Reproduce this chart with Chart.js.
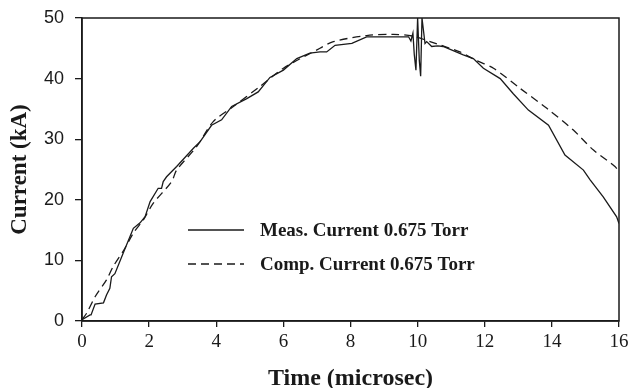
<!DOCTYPE html>
<html lang="en">
  <head>
    <meta charset="UTF-8" />
    <title>Current vs Time</title>
    <script src="https://cdn.jsdelivr.net/npm/chart.js@4"></script>
    <style>
      html, body { margin: 0; padding: 0; background: #fff; }
      .chart-box { width: 628px; height: 388px; }
    </style>
  </head>
  <body>
    <div class="chart-box">
      <canvas id="currentChart" width="628" height="388"></canvas>
    </div>
    <script>
      // measured current (solid)
      const measTime = [0, 0.24, 0.27, 0.39, 0.64, 0.73, 0.83, 0.88, 0.98, 1.25, 1.53, 1.73, 1.88, 2.03, 2.27, 2.37, 2.42, 2.52, 2.82, 3.32, 3.52, 3.86, 4.16, 4.46, 4.91, 5.25, 5.6, 6.0, 6.4, 6.79, 7.09, 7.29, 7.54, 8.04, 8.48, 9.73, 9.8, 9.86, 9.9, 9.95, 10.0, 10.05, 10.09, 10.13, 10.22, 10.27, 10.42, 10.6, 10.76, 11.36, 11.66, 11.96, 12.46, 12.85, 13.3, 13.9, 14.39, 14.94, 15.14, 15.53, 15.93, 16];
      const measCurrent = [0.2, 1.0, 1.0, 2.8, 3.0, 4.3, 5.4, 7.3, 7.8, 11.5, 15.3, 16.2, 17.2, 19.7, 21.9, 21.9, 23.0, 23.8, 25.5, 28.5, 29.6, 32.3, 33.2, 35.4, 36.7, 37.8, 40.2, 41.4, 43.3, 44.2, 44.4, 44.4, 45.5, 45.8, 46.9, 46.9, 46.2, 47.5, 44.0, 41.4, 50, 43.0, 40.4, 50, 45.8, 46.1, 45.3, 45.4, 45.3, 43.9, 43.3, 41.7, 40.0, 37.5, 34.8, 32.3, 27.4, 24.9, 23.3, 20.5, 17.2, 16.1];

      // computed current (dashed)
      const compTime = [0, 0.14, 0.39, 0.73, 0.93, 1.28, 1.53, 1.83, 2.12, 2.67, 2.82, 3.42, 3.91, 4.51, 5.3, 6.0, 7.09, 7.49, 8.48, 9.28, 9.87, 10.37, 11.26, 11.71, 12.26, 13.05, 13.85, 14.64, 15.24, 15.88, 16];
      const compCurrent = [0.2, 1.3, 4.0, 6.8, 9.0, 12.0, 14.5, 16.7, 19.4, 23.0, 24.9, 28.8, 32.9, 35.4, 38.7, 41.7, 45.0, 46.1, 47.1, 47.3, 47.0, 46.1, 44.4, 43.1, 41.7, 38.4, 35.1, 31.5, 28.2, 25.5, 24.6];

      const xTicks = [0, 2, 4, 6, 8, 10, 12, 14, 16];
      const yTicks = [0, 10, 20, 30, 40, 50];

      const seriesLabels = ["Meas. Current 0.675 Torr", "Comp. Current 0.675 Torr"];

      const ink = "#1a1a1a";
      const dashPattern = [8, 5];

      function toPoints(xs, ys) {
        return xs.map((x, i) => ({ x: x, y: ys[i] }));
      }

      // frame around plot area + legend drawn inside
      const framePlugin = {
        id: "frame",
        afterDraw(chart) {
          const { ctx, chartArea } = chart;
          ctx.save();
          ctx.strokeStyle = ink;
          ctx.lineWidth = 1.5;
          ctx.strokeRect(chartArea.left, chartArea.top, chartArea.right - chartArea.left, chartArea.bottom - chartArea.top);

          // legend
          const rows = [
            { y: 230, dash: [] },
            { y: 264, dash: [8, 5] },
          ];
          ctx.font = "bold 19px 'Liberation Serif', serif";
          ctx.textBaseline = "middle";
          ctx.fillStyle = ink;
          rows.forEach((r, i) => {
            ctx.beginPath();
            ctx.setLineDash(r.dash);
            ctx.lineWidth = 1.3;
            ctx.moveTo(188, r.y);
            ctx.lineTo(244, r.y);
            ctx.stroke();
            ctx.fillText(chart.data.datasets[i].label, 260, r.y + 1);
          });
          ctx.restore();
        },
      };

      new Chart(document.getElementById("currentChart"), {
        type: "line",
        data: {
          datasets: [
            {
              label: seriesLabels[0],
              data: toPoints(measTime, measCurrent),
              borderColor: ink,
              borderWidth: 1.3,
              pointRadius: 0,
              tension: 0,
              fill: false,
            },
            {
              label: seriesLabels[1],
              data: toPoints(compTime, compCurrent),
              borderColor: ink,
              borderWidth: 1.3,
              borderDash: dashPattern,
              pointRadius: 0,
              tension: 0.3,
              fill: false,
            },
          ],
        },
        options: {
          responsive: false,
          animation: false,
          layout: { padding: { top: 18, right: 9, left: 0, bottom: 0 } },
          plugins: {
            legend: { display: false },
            tooltip: { enabled: false },
          },
          scales: {
            x: {
              type: "linear",
              min: 0,
              max: 16,
              afterBuildTicks: (scale) => {
                scale.ticks = xTicks.map((v) => ({ value: v }));
              },
              afterFit: (scale) => {
                scale.height = 67;
                scale.paddingLeft = 0;
                scale.paddingRight = 0;
              },
              grid: { drawOnChartArea: false, tickLength: 6, color: ink, lineWidth: 1.3 },
              border: { color: ink, width: 1.5 },
              ticks: {
                color: ink,
                padding: 4,
                maxRotation: 0,
                font: { family: "'Liberation Serif', serif", size: 19 },
              },
              title: {
                display: true,
                text: "Time (microsec)",
                color: ink,
                padding: { top: 0, bottom: 0 },
                font: { family: "'Liberation Serif', serif", size: 24, weight: "bold", lineHeight: 0.8 },
              },
            },
            y: {
              min: 0,
              max: 50,
              afterBuildTicks: (scale) => {
                scale.ticks = yTicks.map((v) => ({ value: v }));
              },
              afterFit: (scale) => {
                scale.width = 82;
                scale.paddingTop = 0;
                scale.paddingBottom = 0;
              },
              grid: { drawOnChartArea: false, tickLength: 7, color: ink, lineWidth: 1.3 },
              border: { color: ink, width: 1.5 },
              ticks: {
                color: ink,
                padding: 11,
                font: { family: "'Liberation Sans', Arial, sans-serif", size: 18 },
              },
              title: {
                display: true,
                text: "Current (kA)",
                color: ink,
                padding: { top: 6, bottom: 0 },
                font: { family: "'Liberation Serif', serif", size: 23, weight: "bold" },
              },
            },
          },
        },
        plugins: [framePlugin],
      });
    </script>
  </body>
</html>
